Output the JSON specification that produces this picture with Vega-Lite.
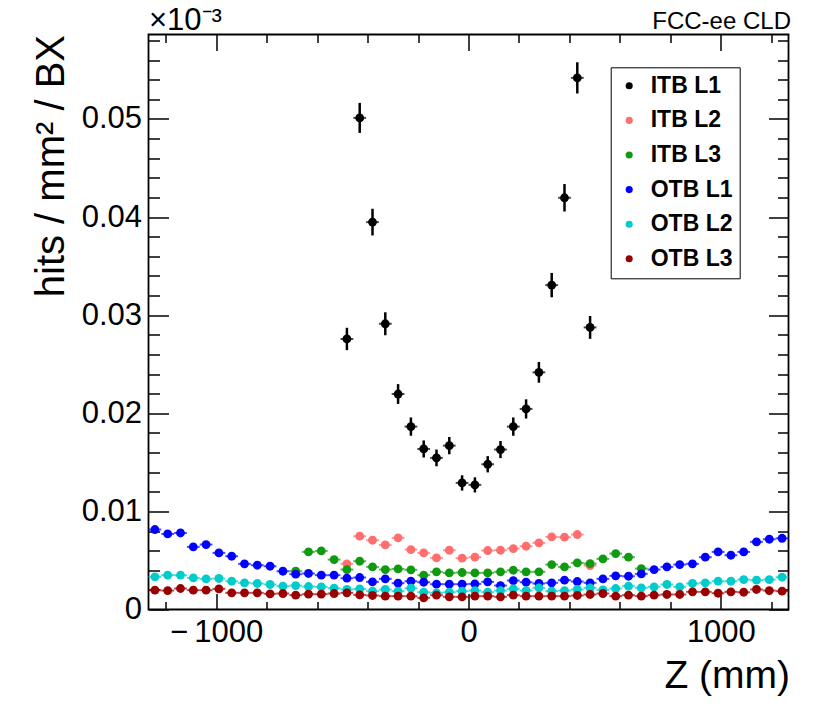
{
  "$schema": "https://vega.github.io/schema/vega-lite/v6.json",
  "width": 640,
  "height": 575,
  "autosize": "none",
  "padding": {"left": 148.5, "top": 34.5, "right": 41.5, "bottom": 100.5},
  "background": "#ffffff",
  "config": {
    "view": {"stroke": "#000000", "strokeWidth": 1.8, "fill": "#ffffff"},
    "font": "Liberation Sans"
  },
  "datasets": {
    "hits": [
      {"s": "ITB L1", "z": -481.8, "v": 0.02757, "lo": 0.02643, "hi": 0.02871},
      {"s": "ITB L1", "z": -431.1, "v": 0.0501, "lo": 0.04857, "hi": 0.05163},
      {"s": "ITB L1", "z": -380.4, "v": 0.03948, "lo": 0.03812, "hi": 0.04084},
      {"s": "ITB L1", "z": -329.7, "v": 0.02912, "lo": 0.02795, "hi": 0.03029},
      {"s": "ITB L1", "z": -279, "v": 0.02196, "lo": 0.02095, "hi": 0.02297},
      {"s": "ITB L1", "z": -228.2, "v": 0.01864, "lo": 0.01771, "hi": 0.01957},
      {"s": "ITB L1", "z": -177.5, "v": 0.01636, "lo": 0.01549, "hi": 0.01723},
      {"s": "ITB L1", "z": -126.8, "v": 0.01545, "lo": 0.0146, "hi": 0.0163},
      {"s": "ITB L1", "z": -76.1, "v": 0.0167, "lo": 0.01582, "hi": 0.01758},
      {"s": "ITB L1", "z": -25.4, "v": 0.0129, "lo": 0.01212, "hi": 0.01368},
      {"s": "ITB L1", "z": 25.4, "v": 0.0127, "lo": 0.01193, "hi": 0.01347},
      {"s": "ITB L1", "z": 76.1, "v": 0.0148, "lo": 0.01397, "hi": 0.01563},
      {"s": "ITB L1", "z": 126.8, "v": 0.0163, "lo": 0.01543, "hi": 0.01717},
      {"s": "ITB L1", "z": 177.5, "v": 0.01864, "lo": 0.01771, "hi": 0.01957},
      {"s": "ITB L1", "z": 228.2, "v": 0.02044, "lo": 0.01946, "hi": 0.02142},
      {"s": "ITB L1", "z": 279, "v": 0.02417, "lo": 0.02311, "hi": 0.02523},
      {"s": "ITB L1", "z": 329.7, "v": 0.03306, "lo": 0.03182, "hi": 0.0343},
      {"s": "ITB L1", "z": 380.4, "v": 0.04196, "lo": 0.04056, "hi": 0.04336},
      {"s": "ITB L1", "z": 431.1, "v": 0.05418, "lo": 0.05259, "hi": 0.05577},
      {"s": "ITB L1", "z": 481.8, "v": 0.02875, "lo": 0.02759, "hi": 0.02991},

      {"s": "ITB L2", "z": -481.8, "v": 0.00465},
      {"s": "ITB L2", "z": -431.1, "v": 0.00747},
      {"s": "ITB L2", "z": -380.4, "v": 0.00706},
      {"s": "ITB L2", "z": -329.7, "v": 0.00658},
      {"s": "ITB L2", "z": -279, "v": 0.0073},
      {"s": "ITB L2", "z": -228.2, "v": 0.00611},
      {"s": "ITB L2", "z": -177.5, "v": 0.00577},
      {"s": "ITB L2", "z": -126.8, "v": 0.00526},
      {"s": "ITB L2", "z": -76.1, "v": 0.00604},
      {"s": "ITB L2", "z": -25.4, "v": 0.00523},
      {"s": "ITB L2", "z": 25.4, "v": 0.00533},
      {"s": "ITB L2", "z": 76.1, "v": 0.00601},
      {"s": "ITB L2", "z": 126.8, "v": 0.00604},
      {"s": "ITB L2", "z": 177.5, "v": 0.00621},
      {"s": "ITB L2", "z": 228.2, "v": 0.00645},
      {"s": "ITB L2", "z": 279, "v": 0.00679},
      {"s": "ITB L2", "z": 329.7, "v": 0.0074},
      {"s": "ITB L2", "z": 380.4, "v": 0.00737},
      {"s": "ITB L2", "z": 431.1, "v": 0.00764},
      {"s": "ITB L2", "z": 481.8, "v": 0.00448},

      {"s": "ITB L3", "z": -684.7, "v": 0.0039},
      {"s": "ITB L3", "z": -634, "v": 0.00587},
      {"s": "ITB L3", "z": -583.3, "v": 0.00597},
      {"s": "ITB L3", "z": -532.6, "v": 0.00509},
      {"s": "ITB L3", "z": -481.8, "v": 0.00407},
      {"s": "ITB L3", "z": -431.1, "v": 0.00492},
      {"s": "ITB L3", "z": -380.4, "v": 0.00434},
      {"s": "ITB L3", "z": -329.7, "v": 0.00407},
      {"s": "ITB L3", "z": -279, "v": 0.00414},
      {"s": "ITB L3", "z": -228.2, "v": 0.00404},
      {"s": "ITB L3", "z": -177.5, "v": 0.0035},
      {"s": "ITB L3", "z": -126.8, "v": 0.00384},
      {"s": "ITB L3", "z": -76.1, "v": 0.00373},
      {"s": "ITB L3", "z": -25.4, "v": 0.00377},
      {"s": "ITB L3", "z": 25.4, "v": 0.00373},
      {"s": "ITB L3", "z": 76.1, "v": 0.00373},
      {"s": "ITB L3", "z": 126.8, "v": 0.00384},
      {"s": "ITB L3", "z": 177.5, "v": 0.004},
      {"s": "ITB L3", "z": 228.2, "v": 0.00384},
      {"s": "ITB L3", "z": 279, "v": 0.00384},
      {"s": "ITB L3", "z": 329.7, "v": 0.00458},
      {"s": "ITB L3", "z": 380.4, "v": 0.00434},
      {"s": "ITB L3", "z": 431.1, "v": 0.00475},
      {"s": "ITB L3", "z": 481.8, "v": 0.00468},
      {"s": "ITB L3", "z": 532.6, "v": 0.00516},
      {"s": "ITB L3", "z": 583.3, "v": 0.0057},
      {"s": "ITB L3", "z": 634, "v": 0.00533},
      {"s": "ITB L3", "z": 684.7, "v": 0.00417},

      {"s": "OTB L1", "z": -1242.6, "v": 0.00815},
      {"s": "OTB L1", "z": -1191.9, "v": 0.0077},
      {"s": "OTB L1", "z": -1141.2, "v": 0.0078},
      {"s": "OTB L1", "z": -1090.5, "v": 0.00638},
      {"s": "OTB L1", "z": -1039.8, "v": 0.00662},
      {"s": "OTB L1", "z": -989, "v": 0.00577},
      {"s": "OTB L1", "z": -938.3, "v": 0.00543},
      {"s": "OTB L1", "z": -887.6, "v": 0.00465},
      {"s": "OTB L1", "z": -836.9, "v": 0.00451},
      {"s": "OTB L1", "z": -786.2, "v": 0.00441},
      {"s": "OTB L1", "z": -735.4, "v": 0.0039},
      {"s": "OTB L1", "z": -684.7, "v": 0.0036},
      {"s": "OTB L1", "z": -634, "v": 0.00367},
      {"s": "OTB L1", "z": -583.3, "v": 0.0035},
      {"s": "OTB L1", "z": -532.6, "v": 0.0035},
      {"s": "OTB L1", "z": -481.8, "v": 0.00319},
      {"s": "OTB L1", "z": -431.1, "v": 0.00326},
      {"s": "OTB L1", "z": -380.4, "v": 0.00282},
      {"s": "OTB L1", "z": -329.7, "v": 0.00312},
      {"s": "OTB L1", "z": -279, "v": 0.00268},
      {"s": "OTB L1", "z": -228.2, "v": 0.00288},
      {"s": "OTB L1", "z": -177.5, "v": 0.00278},
      {"s": "OTB L1", "z": -126.8, "v": 0.00258},
      {"s": "OTB L1", "z": -76.1, "v": 0.00258},
      {"s": "OTB L1", "z": -25.4, "v": 0.00258},
      {"s": "OTB L1", "z": 25.4, "v": 0.00261},
      {"s": "OTB L1", "z": 76.1, "v": 0.00282},
      {"s": "OTB L1", "z": 126.8, "v": 0.00244},
      {"s": "OTB L1", "z": 177.5, "v": 0.00295},
      {"s": "OTB L1", "z": 228.2, "v": 0.00278},
      {"s": "OTB L1", "z": 279, "v": 0.00265},
      {"s": "OTB L1", "z": 329.7, "v": 0.00272},
      {"s": "OTB L1", "z": 380.4, "v": 0.00299},
      {"s": "OTB L1", "z": 431.1, "v": 0.00285},
      {"s": "OTB L1", "z": 481.8, "v": 0.00272},
      {"s": "OTB L1", "z": 532.6, "v": 0.00312},
      {"s": "OTB L1", "z": 583.3, "v": 0.00343},
      {"s": "OTB L1", "z": 634, "v": 0.00339},
      {"s": "OTB L1", "z": 684.7, "v": 0.00363},
      {"s": "OTB L1", "z": 735.4, "v": 0.00407},
      {"s": "OTB L1", "z": 786.2, "v": 0.00434},
      {"s": "OTB L1", "z": 836.9, "v": 0.00458},
      {"s": "OTB L1", "z": 887.6, "v": 0.00465},
      {"s": "OTB L1", "z": 938.3, "v": 0.00533},
      {"s": "OTB L1", "z": 989, "v": 0.00587},
      {"s": "OTB L1", "z": 1039.8, "v": 0.00553},
      {"s": "OTB L1", "z": 1090.5, "v": 0.00587},
      {"s": "OTB L1", "z": 1141.2, "v": 0.00689},
      {"s": "OTB L1", "z": 1191.9, "v": 0.00716},
      {"s": "OTB L1", "z": 1242.6, "v": 0.00726},

      {"s": "OTB L2", "z": -1242.6, "v": 0.00333},
      {"s": "OTB L2", "z": -1191.9, "v": 0.0035},
      {"s": "OTB L2", "z": -1141.2, "v": 0.0035},
      {"s": "OTB L2", "z": -1090.5, "v": 0.00322},
      {"s": "OTB L2", "z": -1039.8, "v": 0.00312},
      {"s": "OTB L2", "z": -989, "v": 0.00316},
      {"s": "OTB L2", "z": -938.3, "v": 0.00288},
      {"s": "OTB L2", "z": -887.6, "v": 0.00272},
      {"s": "OTB L2", "z": -836.9, "v": 0.00265},
      {"s": "OTB L2", "z": -786.2, "v": 0.00255},
      {"s": "OTB L2", "z": -735.4, "v": 0.00238},
      {"s": "OTB L2", "z": -684.7, "v": 0.00244},
      {"s": "OTB L2", "z": -634, "v": 0.00234},
      {"s": "OTB L2", "z": -583.3, "v": 0.00231},
      {"s": "OTB L2", "z": -532.6, "v": 0.00217},
      {"s": "OTB L2", "z": -481.8, "v": 0.00204},
      {"s": "OTB L2", "z": -431.1, "v": 0.0021},
      {"s": "OTB L2", "z": -380.4, "v": 0.00187},
      {"s": "OTB L2", "z": -329.7, "v": 0.00204},
      {"s": "OTB L2", "z": -279, "v": 0.00187},
      {"s": "OTB L2", "z": -228.2, "v": 0.00217},
      {"s": "OTB L2", "z": -177.5, "v": 0.00176},
      {"s": "OTB L2", "z": -126.8, "v": 0.0017},
      {"s": "OTB L2", "z": -76.1, "v": 0.00176},
      {"s": "OTB L2", "z": -25.4, "v": 0.00187},
      {"s": "OTB L2", "z": 25.4, "v": 0.00193},
      {"s": "OTB L2", "z": 76.1, "v": 0.00176},
      {"s": "OTB L2", "z": 126.8, "v": 0.00193},
      {"s": "OTB L2", "z": 177.5, "v": 0.0021},
      {"s": "OTB L2", "z": 228.2, "v": 0.00193},
      {"s": "OTB L2", "z": 279, "v": 0.00221},
      {"s": "OTB L2", "z": 329.7, "v": 0.00187},
      {"s": "OTB L2", "z": 380.4, "v": 0.00193},
      {"s": "OTB L2", "z": 431.1, "v": 0.00204},
      {"s": "OTB L2", "z": 481.8, "v": 0.00221},
      {"s": "OTB L2", "z": 532.6, "v": 0.002},
      {"s": "OTB L2", "z": 583.3, "v": 0.00214},
      {"s": "OTB L2", "z": 634, "v": 0.00238},
      {"s": "OTB L2", "z": 684.7, "v": 0.00221},
      {"s": "OTB L2", "z": 735.4, "v": 0.00231},
      {"s": "OTB L2", "z": 786.2, "v": 0.00255},
      {"s": "OTB L2", "z": 836.9, "v": 0.00231},
      {"s": "OTB L2", "z": 887.6, "v": 0.00265},
      {"s": "OTB L2", "z": 938.3, "v": 0.00272},
      {"s": "OTB L2", "z": 989, "v": 0.00288},
      {"s": "OTB L2", "z": 1039.8, "v": 0.00288},
      {"s": "OTB L2", "z": 1090.5, "v": 0.00305},
      {"s": "OTB L2", "z": 1141.2, "v": 0.00299},
      {"s": "OTB L2", "z": 1191.9, "v": 0.00305},
      {"s": "OTB L2", "z": 1242.6, "v": 0.00329},

      {"s": "OTB L3", "z": -1242.6, "v": 0.00197},
      {"s": "OTB L3", "z": -1191.9, "v": 0.00193},
      {"s": "OTB L3", "z": -1141.2, "v": 0.00214},
      {"s": "OTB L3", "z": -1090.5, "v": 0.00197},
      {"s": "OTB L3", "z": -1039.8, "v": 0.00197},
      {"s": "OTB L3", "z": -989, "v": 0.0021},
      {"s": "OTB L3", "z": -938.3, "v": 0.0017},
      {"s": "OTB L3", "z": -887.6, "v": 0.0017},
      {"s": "OTB L3", "z": -836.9, "v": 0.0017},
      {"s": "OTB L3", "z": -786.2, "v": 0.0016},
      {"s": "OTB L3", "z": -735.4, "v": 0.00163},
      {"s": "OTB L3", "z": -684.7, "v": 0.00146},
      {"s": "OTB L3", "z": -634, "v": 0.00156},
      {"s": "OTB L3", "z": -583.3, "v": 0.00156},
      {"s": "OTB L3", "z": -532.6, "v": 0.00163},
      {"s": "OTB L3", "z": -481.8, "v": 0.0017},
      {"s": "OTB L3", "z": -431.1, "v": 0.00149},
      {"s": "OTB L3", "z": -380.4, "v": 0.00143},
      {"s": "OTB L3", "z": -329.7, "v": 0.00136},
      {"s": "OTB L3", "z": -279, "v": 0.00136},
      {"s": "OTB L3", "z": -228.2, "v": 0.00136},
      {"s": "OTB L3", "z": -177.5, "v": 0.00119},
      {"s": "OTB L3", "z": -126.8, "v": 0.00146},
      {"s": "OTB L3", "z": -76.1, "v": 0.00129},
      {"s": "OTB L3", "z": -25.4, "v": 0.00129},
      {"s": "OTB L3", "z": 25.4, "v": 0.00136},
      {"s": "OTB L3", "z": 76.1, "v": 0.00136},
      {"s": "OTB L3", "z": 126.8, "v": 0.00129},
      {"s": "OTB L3", "z": 177.5, "v": 0.00146},
      {"s": "OTB L3", "z": 228.2, "v": 0.00136},
      {"s": "OTB L3", "z": 279, "v": 0.00136},
      {"s": "OTB L3", "z": 329.7, "v": 0.00136},
      {"s": "OTB L3", "z": 380.4, "v": 0.00136},
      {"s": "OTB L3", "z": 431.1, "v": 0.00143},
      {"s": "OTB L3", "z": 481.8, "v": 0.00153},
      {"s": "OTB L3", "z": 532.6, "v": 0.00163},
      {"s": "OTB L3", "z": 583.3, "v": 0.00136},
      {"s": "OTB L3", "z": 634, "v": 0.00146},
      {"s": "OTB L3", "z": 684.7, "v": 0.00136},
      {"s": "OTB L3", "z": 735.4, "v": 0.00146},
      {"s": "OTB L3", "z": 786.2, "v": 0.00153},
      {"s": "OTB L3", "z": 836.9, "v": 0.00153},
      {"s": "OTB L3", "z": 887.6, "v": 0.0018},
      {"s": "OTB L3", "z": 938.3, "v": 0.0018},
      {"s": "OTB L3", "z": 989, "v": 0.00166},
      {"s": "OTB L3", "z": 1039.8, "v": 0.0018},
      {"s": "OTB L3", "z": 1090.5, "v": 0.00176},
      {"s": "OTB L3", "z": 1141.2, "v": 0.00204},
      {"s": "OTB L3", "z": 1191.9, "v": 0.00193},
      {"s": "OTB L3", "z": 1242.6, "v": 0.00187}
    ]
  },
  "data": {"name": "hits"},
  "layer": [
    {
      "mark": {"type": "tick", "orient": "horizontal", "size": 12.8, "thickness": 2},
      "encoding": {
        "x": {
          "field": "z",
          "type": "quantitative",
          "scale": {"domain": [-1268, 1268], "nice": false, "zero": false},
          "axis": {
            "orient": "bottom",
            "values": [-1200, -1000, -800, -600, -400, -200, 0, 200, 400, 600, 800, 1000, 1200],
            "format": "d",
            "labelExpr": "datum.value % 1000 === 0 ? replace(datum.label, '−', '−\u2009') : ''",
            "tickSize": {"condition": {"test": "datum.value % 1000 === 0", "value": -16}, "value": -8},
            "tickColor": "#000000",
            "tickWidth": 1.5,
            "domain": false,
            "grid": false,
            "labelFont": "Liberation Sans",
            "labelFontSize": 31,
            "labelColor": "#000000",
            "labelPadding": 24,
            "labelFlush": false,
            "labelOverlap": false,
            "labelBound": false,
            "title": "Z (mm)",
            "titleFont": "Liberation Sans",
            "titleFontSize": 39,
            "titleFontWeight": "normal",
            "titleColor": "#000000",
            "titleX": 641,
            "titleY": 78,
            "titleAlign": "right",
            "titleBaseline": "alphabetic"
          }
        },
        "y": {
          "field": "v",
          "type": "quantitative",
          "scale": {"domain": [0, 0.0586], "nice": false, "zero": false},
          "axis": {
            "orient": "left",
            "values": [0, 0.002, 0.004, 0.006, 0.008, 0.01, 0.012, 0.014, 0.016, 0.018, 0.02, 0.022, 0.024, 0.026, 0.028, 0.03, 0.032, 0.034, 0.036, 0.038, 0.04, 0.042, 0.044, 0.046, 0.048, 0.05, 0.052, 0.054, 0.056, 0.058],
            "format": ".2~f",
            "labelExpr": "round(datum.value * 500) % 5 === 0 ? datum.label : ''",
            "tickSize": {"condition": {"test": "round(datum.value * 500) % 5 === 0", "value": -20}, "value": -11},
            "tickColor": "#000000",
            "tickWidth": 1.5,
            "domain": false,
            "grid": false,
            "labelFont": "Liberation Sans",
            "labelFontSize": 31,
            "labelColor": "#000000",
            "labelPadding": 27,
            "labelFlush": false,
            "labelOverlap": false,
            "labelBound": false,
            "title": "hits / mm² / BX",
            "titleFont": "Liberation Sans",
            "titleFontSize": 40,
            "titleFontWeight": "normal",
            "titleColor": "#000000",
            "titleAngle": -90,
            "titleX": -85,
            "titleY": 0,
            "titleAlign": "right",
            "titleBaseline": "alphabetic"
          }
        },
        "fill": {
          "field": "s",
          "type": "nominal",
          "scale": {
            "range": ["#000000", "#ff6e6e", "#109a10", "#0000ff", "#00cccc", "#990000"]
          },
          "legend": null
        }
      }
    },
    {
      "transform": [{"filter": "isValid(datum.lo)"}],
      "mark": {"type": "rule", "color": "#000000", "strokeWidth": 2.5},
      "encoding": {
        "x": {
          "field": "z",
          "type": "quantitative",
          "scale": {"domain": [-1268, 1268], "nice": false, "zero": false},
          "axis": {
            "orient": "top",
            "values": [-1200, -1000, -800, -600, -400, -200, 0, 200, 400, 600, 800, 1000, 1200],
            "labels": false,
            "tickSize": {"condition": {"test": "datum.value % 1000 === 0", "value": -16}, "value": -8},
            "tickColor": "#000000",
            "tickWidth": 1.5,
            "domain": false,
            "grid": false,
            "title": "×10⁻³",
            "titleFont": "Liberation Sans",
            "titleFontSize": 31,
            "titleFontWeight": "normal",
            "titleColor": "#000000",
            "titleX": 0,
            "titleY": -5,
            "titleAlign": "left",
            "titleBaseline": "alphabetic"
          }
        },
        "y": {
          "field": "lo",
          "type": "quantitative",
          "scale": {"domain": [0, 0.0586], "nice": false, "zero": false},
          "axis": {
            "orient": "right",
            "values": [0, 0.002, 0.004, 0.006, 0.008, 0.01, 0.012, 0.014, 0.016, 0.018, 0.02, 0.022, 0.024, 0.026, 0.028, 0.03, 0.032, 0.034, 0.036, 0.038, 0.04, 0.042, 0.044, 0.046, 0.048, 0.05, 0.052, 0.054, 0.056, 0.058],
            "labels": false,
            "tickSize": {"condition": {"test": "round(datum.value * 500) % 5 === 0", "value": -20}, "value": -11},
            "tickColor": "#000000",
            "tickWidth": 1.5,
            "domain": false,
            "grid": false,
            "title": "FCC-ee CLD",
            "titleFont": "Liberation Sans",
            "titleFontSize": 24,
            "titleFontWeight": "normal",
            "titleColor": "#000000",
            "titleAngle": 0,
            "titleX": 2,
            "titleY": -6.5,
            "titleAlign": "right",
            "titleBaseline": "alphabetic"
          }
        },
        "y2": {"field": "hi"}
      }
    },
    {
      "mark": {"type": "point", "shape": "circle", "filled": true, "opacity": 1, "size": 78},
      "encoding": {
        "x": {"field": "z", "type": "quantitative", "scale": {"domain": [-1268, 1268], "nice": false, "zero": false}, "axis": null},
        "y": {"field": "v", "type": "quantitative", "scale": {"domain": [0, 0.0586], "nice": false, "zero": false}, "axis": null},
        "color": {
          "field": "s",
          "type": "nominal",
          "scale": {
            "domain": ["ITB L1", "ITB L2", "ITB L3", "OTB L1", "OTB L2", "OTB L3"],
            "range": ["#000000", "#ff6e6e", "#109a10", "#0000ff", "#00cccc", "#990000"]
          },
          "legend": {
            "orient": "none",
            "legendX": 462.2,
            "legendY": 32.8,
            "title": null,
            "padding": 7,
            "strokeColor": "#000000",
            "fillColor": "#ffffff",
            "symbolType": "circle",
            "symbolSize": 50,
            "symbolOffset": 0,
            "labelFont": "Liberation Sans",
            "labelFontSize": 23,
            "labelFontWeight": "bold",
            "labelColor": "#000000",
            "labelOffset": 10,
            "rowPadding": 10.6,
            "encode": {
              "legend": {"update": {"width": {"value": 137}}}
            }
          }
        }
      }
    }
  ],
  "resolve": {"axis": {"x": "independent", "y": "independent"}}
}
